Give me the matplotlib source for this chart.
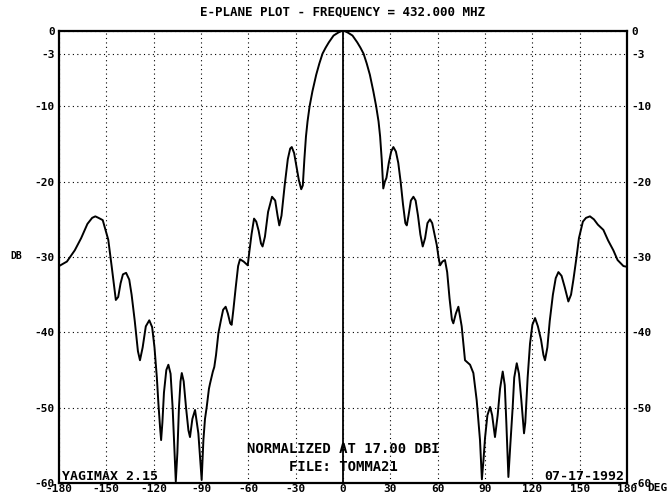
import matplotlib
matplotlib.use("Agg")
import matplotlib.pyplot as plt

# E-plane pattern (angle in degrees, gain in dB)
angles = [
    -180, -175, -170, -166, -162, -159, -157, -155, -152.3, -150.8, -148.8,
    -146.6, -144, -142.5, -141, -139.5, -137.5, -135.5, -134, -132, -130, -128.7,
    -127, -125, -122.8, -121, -119.5, -118, -117, -116, -115.3, -114.5, -113.5,
    -112, -110.7, -109.3, -108, -107, -106, -105, -104, -103, -102.2, -101,
    -99.5, -98, -97, -95.5, -93.8, -91.7, -90.5, -89.6, -88.5, -87.5, -86.4,
    -85, -84.3, -82.5, -81.6, -80.5, -79, -77.5, -76, -74.4, -73, -71.5, -70.6,
    -69.5, -68, -66.5, -65.3, -63, -60.4, -59.5, -58, -56.4, -55, -53.5, -52,
    -51, -49.5, -47.5, -45, -43, -41.5, -40.4, -39, -37, -35, -33.5, -32.5,
    -31, -29.5, -28, -26.5, -25.5, -24.5, -23.5, -22.5, -21.2, -19.4, -17,
    -15, -13, -11, -9, -6, -3, -1, 0,
    1, 3, 6, 9, 11, 13, 15, 17, 19.2, 21, 22.5, 23.5, 24.5, 25.5, 26.5,
    27.5, 29, 30.5, 31.9, 33.5, 35, 36.5, 38, 39.5, 40.4, 41.5, 43, 44.6, 46,
    47.5, 49, 50.5, 52, 53.5, 55.1, 56.5, 58, 59.4, 60.5, 61.5, 63, 64.6, 66,
    67.5, 69, 69.9, 71.5, 73.1, 75.2, 77.3, 80.5, 82.6, 84.7, 86.8, 88, 89,
    90, 91.5, 93.2, 94.5, 96.3, 98, 99.5, 101.2, 102.5, 103.5, 104.8, 106,
    107.5, 108.5, 110.1, 111.5, 113, 114.7, 115.5, 117, 118.5, 120, 121.7,
    123.5, 125.5, 127, 128, 129.5, 131, 133, 134.8, 136.5, 138.5, 140.5, 142.8,
    144.5, 146, 148, 149.5, 152, 154, 156.5, 159, 161.5, 165, 168, 171.3, 174,
    177.7, 180,
]
gain_db = [
    -31.2, -30.6, -29.1, -27.5, -25.6, -24.8, -24.6, -24.8, -25.1, -26.2, -27.7,
    -31.3, -35.7, -35.3, -33.5, -32.3, -32.1, -33, -35, -38.5, -42.5, -43.7,
    -42, -39.2, -38.4, -39.3, -42, -46, -49.5, -52.5, -54.3, -52, -48,
    -45, -44.3, -45.5, -50, -55, -59.8, -56, -50, -46.5, -45.4, -46.5,
    -50, -53, -53.9, -51.5, -50.3, -53.4, -57, -59.6, -54.3, -51.5, -49.9,
    -47.5, -46.8, -45.2, -44.6, -43, -40.1, -38.5, -37, -36.6, -37.5, -38.8, -39,
    -37, -34, -31.2, -30.3, -30.6, -31.1, -29.5, -27, -24.9, -25.3, -26.5, -28.2,
    -28.6, -27.3, -24, -22, -22.5, -24.5, -25.8, -24.5, -20.5, -17, -15.6, -15.4,
    -16.2, -18, -19.8, -21, -20.5, -17, -14, -12, -10, -8, -5.8,
    -4.3, -3.0, -2.2, -1.5, -0.6, -0.2, 0, 0,
    0, -0.2, -0.6, -1.5, -2.2, -3.0, -4.3, -5.8, -8, -10, -12, -14, -17, -20.9, -20,
    -19.5, -17.5, -16, -15.4, -16, -17.5, -20, -23, -25.5, -25.8, -24.5, -22.5, -22, -22.5,
    -24.5, -27, -28.6, -27.5, -25.5, -25, -25.5, -27, -28.4, -30, -31.1, -30.6, -30.4, -32,
    -35.5, -38.3, -38.8, -37.5, -36.6, -39.2, -43.7, -44.3, -45.4, -49, -54.3, -59.5, -57,
    -54, -51, -49.9, -51, -53.9, -51, -47.5, -45.2, -47, -52, -59.2, -55,
    -50, -46, -44.1, -45.5, -49, -53.4, -52, -46, -41.5, -39, -38.1,
    -39.2, -41, -43, -43.7, -42, -38.5, -35, -32.8, -32, -32.5, -34, -35.9,
    -35, -33, -30, -27.5, -25.3, -24.8, -24.6, -25, -25.7, -26.4, -27.8, -29.1, -30.4,
    -31.2, -31.3,
]

x_ticks = [-180, -150, -120, -90, -60, -30, 0, 30, 60, 90, 120, 150, 180]
y_ticks = [0, -3, -10, -20, -30, -40, -50, -60]

FONT = "DejaVu Sans Mono"

fig = plt.figure(figsize=(6.67, 4.95), dpi=100)
ax = fig.add_axes([0.0885, 0.0242, 0.8516, 0.9131])

ax.plot(angles, gain_db, color="black", lw=1.4)
ax.axvline(0, color="black", lw=1.3)

ax.set_xlim(-180, 180)
ax.set_ylim(-60, 0)
ax.set_xticks(x_ticks)
ax.set_yticks(y_ticks)
ax.set_xticklabels([str(t) for t in x_ticks], family=FONT, weight="bold", fontsize=8)
ax.set_yticklabels([str(t) for t in y_ticks], family=FONT, weight="bold", fontsize=8)
ax.tick_params(axis="y", length=0, labelleft=True, labelright=True, pad=3)
ax.tick_params(axis="x", length=0, pad=1)
ax.grid(True, color="black", linestyle=(0, (1, 3)), lw=0.8)
for s in ax.spines.values():
    s.set_linewidth(1.6)

fig.text(0.514, 0.975, "E-PLANE PLOT - FREQUENCY = 432.000 MHZ", ha="center", va="center",
         family=FONT, weight="bold", fontsize=9)
fig.text(0.024, 0.483, "DB", ha="center", va="center", family=FONT, weight="bold", fontsize=7)
fig.text(0.985, 0.004, "DEG", ha="center", va="bottom", family=FONT, weight="bold", fontsize=8)

ax.text(0, -55.5, "NORMALIZED AT 17.00 DBI", ha="center", va="center",
        family=FONT, weight="bold", fontsize=10)
ax.text(0, -57.9, "FILE: TOMMA21", ha="center", va="center",
        family=FONT, weight="bold", fontsize=10)
ax.text(-178, -59.2, "YAGIMAX 2.15", ha="left", va="center",
        family=FONT, weight="bold", fontsize=9.5)
ax.text(178.5, -59.2, "07-17-1992", ha="right", va="center",
        family=FONT, weight="bold", fontsize=9.5)

plt.savefig("out.png", dpi=100)
